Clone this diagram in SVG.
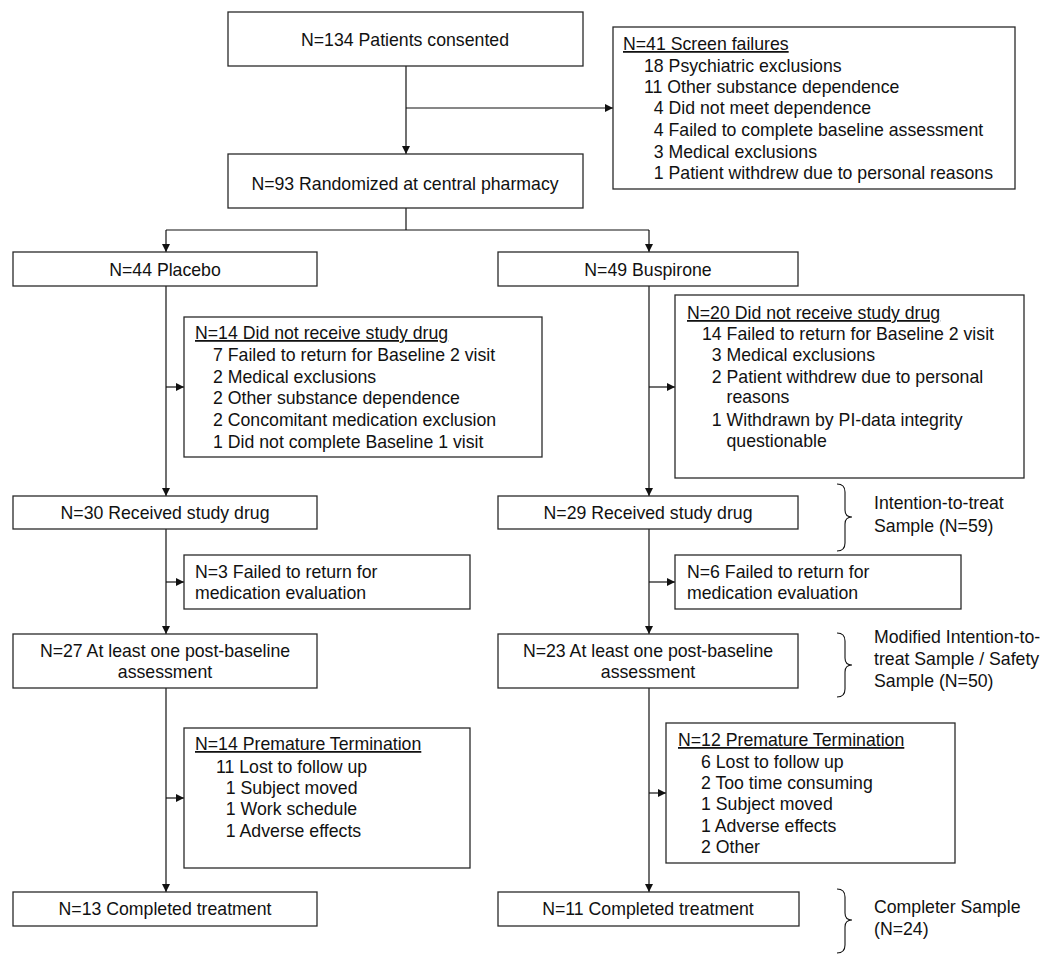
<svg xmlns="http://www.w3.org/2000/svg" width="1050" height="960" viewBox="0 0 1050 960">
<defs>
<style>
.box{fill:#fff;stroke:#2a2a2a;stroke-width:1.3}
.t{font-family:"Liberation Sans",Arial,sans-serif;font-size:17.7px;fill:#111}
.c{text-anchor:middle}
.u{text-decoration:underline}
.ln{fill:none;stroke:#111;stroke-width:1.2}
.br{fill:none;stroke:#111;stroke-width:1.1}
</style>
<marker id="ah" viewBox="0 0 10 10" refX="10" refY="5" markerWidth="8" markerHeight="8" markerUnits="userSpaceOnUse" orient="auto">
<path d="M0,0 L10,5 L0,10 z" fill="#111"/>
</marker>
</defs>
<rect width="1050" height="960" fill="#fff"/>

<g id="connectors">
<line class="ln" x1="406" y1="66" x2="406" y2="154" marker-end="url(#ah)"/>
<line class="ln" x1="406" y1="108" x2="613" y2="108" marker-end="url(#ah)"/>
<line class="ln" x1="406" y1="208" x2="406" y2="230"/>
<line class="ln" x1="166" y1="230" x2="649" y2="230"/>
<line class="ln" x1="166" y1="230" x2="166" y2="252" marker-end="url(#ah)"/>
<line class="ln" x1="649" y1="230" x2="649" y2="252" marker-end="url(#ah)"/>
<line class="ln" x1="166" y1="286" x2="166" y2="496" marker-end="url(#ah)"/>
<line class="ln" x1="166" y1="387" x2="184" y2="387" marker-end="url(#ah)"/>
<line class="ln" x1="166" y1="529" x2="166" y2="634" marker-end="url(#ah)"/>
<line class="ln" x1="166" y1="582" x2="184" y2="582" marker-end="url(#ah)"/>
<line class="ln" x1="166" y1="688" x2="166" y2="892" marker-end="url(#ah)"/>
<line class="ln" x1="166" y1="798" x2="184" y2="798" marker-end="url(#ah)"/>
<line class="ln" x1="649" y1="286" x2="649" y2="496" marker-end="url(#ah)"/>
<line class="ln" x1="649" y1="387" x2="675" y2="387" marker-end="url(#ah)"/>
<line class="ln" x1="649" y1="529" x2="649" y2="634" marker-end="url(#ah)"/>
<line class="ln" x1="649" y1="582" x2="675" y2="582" marker-end="url(#ah)"/>
<line class="ln" x1="649" y1="688" x2="649" y2="892" marker-end="url(#ah)"/>
<line class="ln" x1="649" y1="793" x2="666" y2="793" marker-end="url(#ah)"/>
</g>

<g id="consented">
<rect class="box" x="228" y="12" width="355" height="54"/>
<text class="t c" x="405" y="46">N=134 Patients consented</text>
</g>

<g id="screen-failures">
<rect class="box" x="613" y="27" width="402" height="162"/>
<text class="t u" x="623" y="50">N=41 Screen failures</text>
<text class="t" x="644" y="72">18 Psychiatric exclusions</text>
<text class="t" x="644" y="93">11 Other substance dependence</text>
<text class="t" x="653.8" y="114">4 Did not meet dependence</text>
<text class="t" x="653.8" y="136">4 Failed to complete baseline assessment</text>
<text class="t" x="653.8" y="158">3 Medical exclusions</text>
<text class="t" x="653.8" y="179">1 Patient withdrew due to personal reasons</text>
</g>

<g id="randomized">
<rect class="box" x="228" y="154" width="355" height="54"/>
<text class="t c" x="405" y="190">N=93 Randomized at central pharmacy</text>
</g>

<g id="placebo">
<rect class="box" x="13" y="252" width="304" height="34"/>
<text class="t c" x="165" y="276">N=44 Placebo</text>
</g>

<g id="buspirone">
<rect class="box" x="498" y="252" width="300" height="34"/>
<text class="t c" x="648" y="276">N=49 Buspirone</text>
</g>

<g id="placebo-no-drug">
<rect class="box" x="184" y="317" width="358" height="140"/>
<text class="t u" x="195" y="339">N=14 Did not receive study drug</text>
<text class="t" x="213" y="361">7 Failed to return for Baseline 2 visit</text>
<text class="t" x="213" y="383">2 Medical exclusions</text>
<text class="t" x="213" y="404">2 Other substance dependence</text>
<text class="t" x="213" y="426">2 Concomitant medication exclusion</text>
<text class="t" x="213" y="448">1 Did not complete Baseline 1 visit</text>
</g>

<g id="buspirone-no-drug">
<rect class="box" x="675" y="295" width="349" height="183"/>
<text class="t u" x="687" y="319">N=20 Did not receive study drug</text>
<text class="t" x="702" y="340">14 Failed to return for Baseline 2 visit</text>
<text class="t" x="711.8" y="361">3 Medical exclusions</text>
<text class="t" x="711.8" y="383">2 Patient withdrew due to personal</text>
<text class="t" x="726.5" y="403">reasons</text>
<text class="t" x="711.8" y="426">1 Withdrawn by PI-data integrity</text>
<text class="t" x="726.5" y="447">questionable</text>
</g>

<g id="placebo-received">
<rect class="box" x="13" y="496" width="304" height="33"/>
<text class="t c" x="165" y="519">N=30 Received study drug</text>
</g>

<g id="buspirone-received">
<rect class="box" x="498" y="496" width="300" height="33"/>
<text class="t c" x="648" y="519">N=29 Received study drug</text>
</g>

<g id="placebo-failed-eval">
<rect class="box" x="184" y="555" width="286" height="54"/>
<text class="t" x="195" y="578">N=3 Failed to return for</text>
<text class="t" x="195" y="599">medication evaluation</text>
</g>

<g id="buspirone-failed-eval">
<rect class="box" x="675" y="555" width="286" height="54"/>
<text class="t" x="687" y="578">N=6 Failed to return for</text>
<text class="t" x="687" y="599">medication evaluation</text>
</g>

<g id="placebo-post-baseline">
<rect class="box" x="13" y="634" width="304" height="54"/>
<text class="t c" x="165" y="657">N=27 At least one post-baseline</text>
<text class="t c" x="165" y="678">assessment</text>
</g>

<g id="buspirone-post-baseline">
<rect class="box" x="498" y="634" width="300" height="54"/>
<text class="t c" x="648" y="657">N=23 At least one post-baseline</text>
<text class="t c" x="648" y="678">assessment</text>
</g>

<g id="placebo-termination">
<rect class="box" x="184" y="728" width="286" height="140"/>
<text class="t u" x="195" y="750">N=14 Premature Termination</text>
<text class="t" x="216" y="773">11 Lost to follow up</text>
<text class="t" x="225.8" y="794">1 Subject moved</text>
<text class="t" x="225.8" y="815">1 Work schedule</text>
<text class="t" x="225.8" y="837">1 Adverse effects</text>
</g>

<g id="buspirone-termination">
<rect class="box" x="666" y="723" width="289" height="140"/>
<text class="t u" x="678" y="746">N=12 Premature Termination</text>
<text class="t" x="701" y="768">6 Lost to follow up</text>
<text class="t" x="701" y="789">2 Too time consuming</text>
<text class="t" x="701" y="810">1 Subject moved</text>
<text class="t" x="701" y="832">1 Adverse effects</text>
<text class="t" x="701" y="853">2 Other</text>
</g>

<g id="placebo-completed">
<rect class="box" x="13" y="892" width="304" height="34"/>
<text class="t c" x="165" y="915">N=13 Completed treatment</text>
</g>

<g id="buspirone-completed">
<rect class="box" x="498" y="892" width="301" height="34"/>
<text class="t c" x="648" y="915">N=11 Completed treatment</text>
</g>

<g id="itt-sample">
<path class="br" d="M837,484 Q845,484 845,492 L845,510 Q845,517 852,517 Q845,517 845,524 L845,543 Q845,551 837,551"/>
<text class="t" x="874" y="509">Intention-to-treat</text>
<text class="t" x="874" y="532">Sample (N=59)</text>
</g>

<g id="mitt-sample">
<path class="br" d="M837,633 Q845,633 845,641 L845,658 Q845,665 852,665 Q845,665 845,672 L845,689 Q845,697 837,697"/>
<text class="t" x="874" y="643">Modified Intention-to-</text>
<text class="t" x="874" y="665">treat Sample / Safety</text>
<text class="t" x="874" y="687">Sample (N=50)</text>
</g>

<g id="completer-sample">
<path class="br" d="M837,889 Q845,889 845,897 L845,913 Q845,920 852,920 Q845,920 845,927 L845,945 Q845,953 837,953"/>
<text class="t" x="874" y="913">Completer Sample</text>
<text class="t" x="874" y="935">(N=24)</text>
</g>
</svg>
